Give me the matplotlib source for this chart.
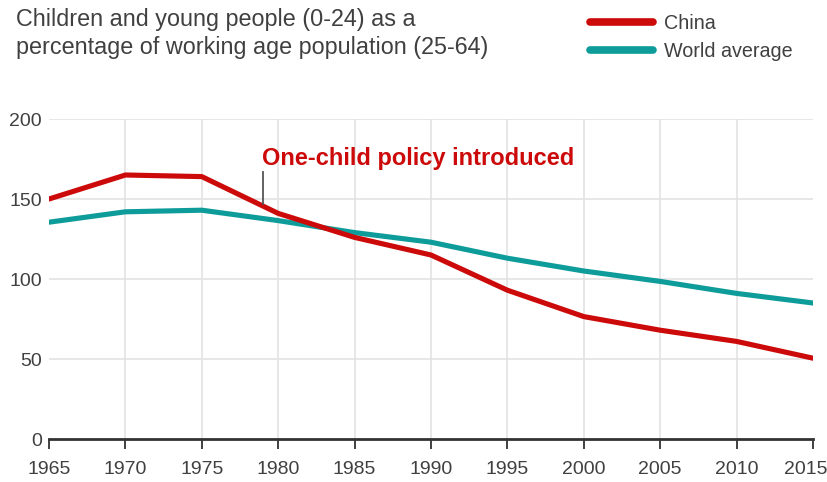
import numpy as np
import matplotlib.pyplot as plt
import matplotlib.transforms as mtransforms

plt.rcParams['font.family'] = ['Liberation Sans', 'DejaVu Sans']

# Data
years = [1965, 1970, 1975, 1980, 1985, 1990, 1995, 2000, 2005, 2010, 2015]
china = [150, 165, 164, 141, 126, 115, 93, 76.5, 68, 61, 50.5]
world = [135.5, 142, 143, 136.5, 129, 123, 113, 105, 98.5, 91, 85]
policy_year = 1979

red = '#cc0a0a'
teal = '#0e9c9a'
grey_text = '#404040'

fig = plt.figure(figsize=(8.28, 4.82), dpi=100)
ax = fig.add_axes([49 / 828, 43 / 482, 764 / 828, 320 / 482])

# grid lines
for y in [50, 100, 150, 200]:
    ax.axhline(y, color='#e3e3e3', lw=1.2, zorder=0)
for x in years[1:-1]:
    ax.axvline(x, color='#e3e3e3', lw=1.2, zorder=0)

ax.plot(years, china, color=red, lw=3.7, solid_capstyle='round', label='China', zorder=3)
ax.plot(years, world, color=teal, lw=3.7, solid_capstyle='round', label='World average', zorder=2)

# annotation for one-child policy
china_at_policy = np.interp(policy_year, years, china)
ax.plot([policy_year, policy_year], [china_at_policy + 1, 167], color='#555555', lw=1.3, zorder=4)
ax.text(policy_year - 0.05, 175, 'One-child policy introduced', color=red,
        fontsize=17, fontweight='bold', ha='left', va='center')

ax.set_xlim(1965, 2015)
ax.set_ylim(0, 200)
ax.set_xticks(years)
ax.set_yticks([0, 50, 100, 150, 200])
for s in ['top', 'right', 'left']:
    ax.spines[s].set_visible(False)
ax.spines['bottom'].set_color('#333333')
ax.spines['bottom'].set_linewidth(2)
ax.tick_params(axis='x', direction='out', length=7, width=1.3, color='#333333',
               labelsize=14, labelcolor=grey_text, pad=9)
ax.tick_params(axis='y', length=0, labelsize=14, labelcolor=grey_text, pad=5)

# keep the last year label inside the figure
last = ax.get_xticklabels()[-1]
last.set_transform(last.get_transform() + mtransforms.ScaledTranslation(-7 / 100, 0, fig.dpi_scale_trans))

fig.text(16 / 828, 1 - 8 / 482,
         'Children and young people (0-24) as a\npercentage of working age population (25-64)',
         fontsize=16.8, color=grey_text, ha='left', va='top', linespacing=1.3)

leg = fig.legend(loc='upper left', bbox_to_anchor=(572 / 828, 1 + 4 / 482), frameon=False,
                 fontsize=14.2, handlelength=3.2, handletextpad=0.55, labelspacing=0.45,
                 labelcolor=grey_text)
for line in leg.get_lines():
    line.set_linewidth(5.5)

fig.savefig('out.png', dpi=100)
